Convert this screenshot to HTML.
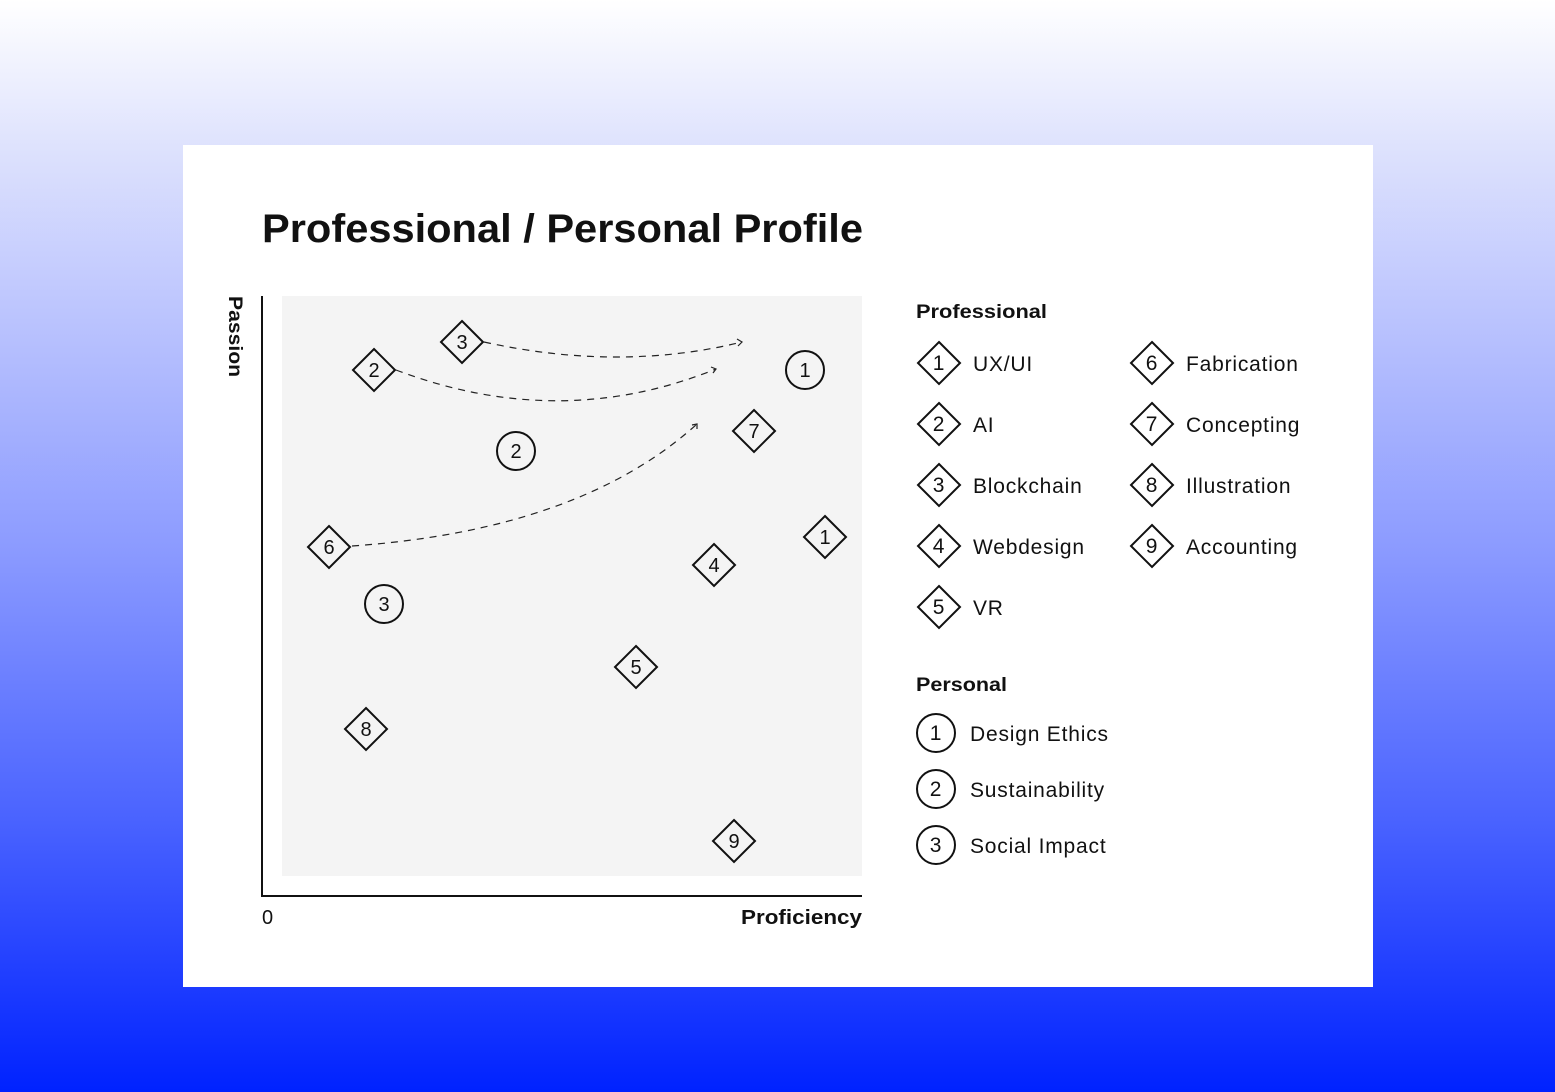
<!DOCTYPE html>
<html><head><meta charset="utf-8"><style>
html,body{margin:0;padding:0;}
body{width:1555px;height:1092px;overflow:hidden;background:linear-gradient(#ffffff 0%,#dfe3fd 13%,#8c9bff 50%,#4a63ff 75%,#0022ff 100%);}
svg{display:block;}
text{font-family:"Liberation Sans",sans-serif;fill:#111;}
.lg text{letter-spacing:0.8px;}
.b{letter-spacing:1.2px;}
</style></head><body>
<svg width="1555" height="1092" viewBox="0 0 1555 1092" xmlns="http://www.w3.org/2000/svg">
<defs>
<g id="d"><path d="M0,-21 L21,0 L0,21 L-21,0 Z" fill="none" stroke="#111" stroke-width="2"/></g>
</defs>
<rect x="183" y="145" width="1190" height="842" fill="#fff"/>
<text x="262" y="242" font-size="40" font-weight="bold" textLength="601" lengthAdjust="spacingAndGlyphs">Professional / Personal Profile</text>
<rect x="282" y="296" width="580" height="580" fill="#f4f4f4"/>
<path d="M262,296 L262,896 L862,896" fill="none" stroke="#111" stroke-width="2"/>
<text transform="translate(229,296) rotate(90)" font-size="19" font-weight="bold" textLength="81" lengthAdjust="spacingAndGlyphs">Passion</text>
<text x="262" y="924" font-size="20">0</text>
<text x="741" y="924" font-size="20" font-weight="bold" textLength="121" lengthAdjust="spacingAndGlyphs">Proficiency</text>
<g fill="none" stroke="#222" stroke-width="1.2" stroke-dasharray="7,6">
<path d="M484,342 Q620,372 742,342"/>
<path d="M396,370 Q560,432 716,369"/>
<path d="M352,546 Q580,530 697,424"/>
</g>
<g fill="none" stroke="#222" stroke-width="1.2">
<path d="M737,339 L742,342 L738,346"/>
<path d="M711,367 L716,369 L713,373"/>
<path d="M692,425 L697,424 L697,429"/>
</g>
<g font-size="20" text-anchor="middle">
<use href="#d" x="462" y="342"/><text x="462" y="349">3</text>
<use href="#d" x="374" y="370"/><text x="374" y="377">2</text>
<use href="#d" x="754" y="431"/><text x="754" y="438">7</text>
<use href="#d" x="329" y="547"/><text x="329" y="554">6</text>
<use href="#d" x="825" y="537"/><text x="825" y="544">1</text>
<use href="#d" x="714" y="565"/><text x="714" y="572">4</text>
<use href="#d" x="636" y="667"/><text x="636" y="674">5</text>
<use href="#d" x="366" y="729"/><text x="366" y="736">8</text>
<use href="#d" x="734" y="841"/><text x="734" y="848">9</text>
<g fill="none" stroke="#111" stroke-width="2">
<circle cx="805" cy="370" r="19"/><circle cx="516" cy="451" r="19"/><circle cx="384" cy="604" r="19"/>
</g>
<text x="805" y="377">1</text><text x="516" y="458">2</text><text x="384" y="611">3</text>
</g>
<text x="916" y="318" font-size="19" font-weight="bold" textLength="131" lengthAdjust="spacingAndGlyphs">Professional</text>
<g font-size="21" class="lg">
<use href="#d" x="939" y="363"/><text x="939" y="370" text-anchor="middle">1</text><text x="973" y="371">UX/UI</text>
<use href="#d" x="939" y="424"/><text x="939" y="431" text-anchor="middle">2</text><text x="973" y="432">AI</text>
<use href="#d" x="939" y="485"/><text x="939" y="492" text-anchor="middle">3</text><text x="973" y="493">Blockchain</text>
<use href="#d" x="939" y="546"/><text x="939" y="553" text-anchor="middle">4</text><text x="973" y="554">Webdesign</text>
<use href="#d" x="939" y="607"/><text x="939" y="614" text-anchor="middle">5</text><text x="973" y="615">VR</text>
<use href="#d" x="1152" y="363"/><text x="1152" y="370" text-anchor="middle">6</text><text x="1186" y="371">Fabrication</text>
<use href="#d" x="1152" y="424"/><text x="1152" y="431" text-anchor="middle">7</text><text x="1186" y="432">Concepting</text>
<use href="#d" x="1152" y="485"/><text x="1152" y="492" text-anchor="middle">8</text><text x="1186" y="493">Illustration</text>
<use href="#d" x="1152" y="546"/><text x="1152" y="553" text-anchor="middle">9</text><text x="1186" y="554">Accounting</text>
</g>
<text x="916" y="691" font-size="19" font-weight="bold" textLength="91" lengthAdjust="spacingAndGlyphs">Personal</text>
<g fill="none" stroke="#111" stroke-width="2">
<circle cx="936" cy="733" r="19"/><circle cx="936" cy="789" r="19"/><circle cx="936" cy="845" r="19"/>
</g>
<g font-size="21" class="lg">
<text x="936" y="740" text-anchor="middle">1</text><text x="970" y="741">Design Ethics</text>
<text x="936" y="796" text-anchor="middle">2</text><text x="970" y="797">Sustainability</text>
<text x="936" y="852" text-anchor="middle">3</text><text x="970" y="853">Social Impact</text>
</g>
</svg>
</body></html>
